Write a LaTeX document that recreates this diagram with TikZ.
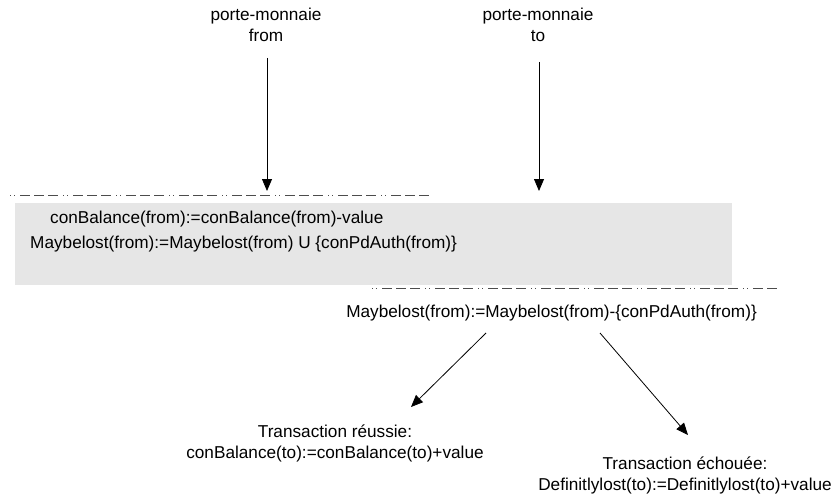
\documentclass[tikz,border=0pt]{standalone}
\usepackage{fontspec}
\setmainfont{Liberation Sans}
\usetikzlibrary{arrows.meta}
\definecolor{boxgray}{HTML}{E6E6E6}
\tikzset{
  lbl/.style={inner sep=0pt, font=\fontsize{17.2}{20}\selectfont},
  flow/.style={line width=0.8pt, -{Triangle[length=12pt,width=10pt]}},
  dashline/.style={line width=1pt, gray!60!black, dash pattern=on 1pt off 3pt on 1pt off 5pt on 10pt off 4pt on 10pt off 4pt on 10pt off 5pt}
}
\begin{document}
\begin{tikzpicture}[x=1pt,y=-1pt]
\useasboundingbox (0,0) rectangle (837,500);
\fill[boxgray] (15,203) rectangle (732,285);
\draw[dashline] (10,195) -- (432,195);
\draw[dashline] (372,288) -- (780,288);
\node[lbl, anchor=base] (pmfroma) at (266,21) {porte-monnaie};
\node[lbl, anchor=base] (pmfromb) at (266,42) {from};
\node[lbl, anchor=base] (pmtoa) at (538,21) {porte-monnaie};
\node[lbl, anchor=base] (pmtob) at (538,42) {to};
\coordinate (startfrom) at (267,58);
\coordinate (startto) at (539,62);
\coordinate (endfrom) at (267,191);
\coordinate (endto) at (539,191);
\draw[flow] (startfrom) -- (endfrom);
\draw[flow] (startto) -- (endto);
\node[lbl, anchor=base west] (l1) at (50,223) {conBalance(from):=conBalance(from)-value};
\node[lbl, anchor=base west] (l2) at (30,248) {Maybelost(from):=Maybelost(from) U \{conPdAuth(from)\}};
\node[lbl, anchor=base east] (mb) at (757,317) {Maybelost(from):=Maybelost(from)-\{conPdAuth(from)\}};
\node[lbl, anchor=base] (oka) at (335,437) {Transaction réussie:};
\node[lbl, anchor=base] (okb) at (335,458) {conBalance(to):=conBalance(to)+value};
\node[lbl, anchor=base] (koa) at (685,469) {Transaction échouée:};
\node[lbl, anchor=base] (kob) at (685,490) {Definitlylost(to):=Definitlylost(to)+value};
\coordinate (okstart) at (486,333);
\coordinate (kostart) at (600,333);
\coordinate (okend) at (411,407);
\coordinate (koend) at (688,435);
\draw[flow] (okstart) -- (okend);
\draw[flow] (kostart) -- (koend);
\end{tikzpicture}
\end{document}
